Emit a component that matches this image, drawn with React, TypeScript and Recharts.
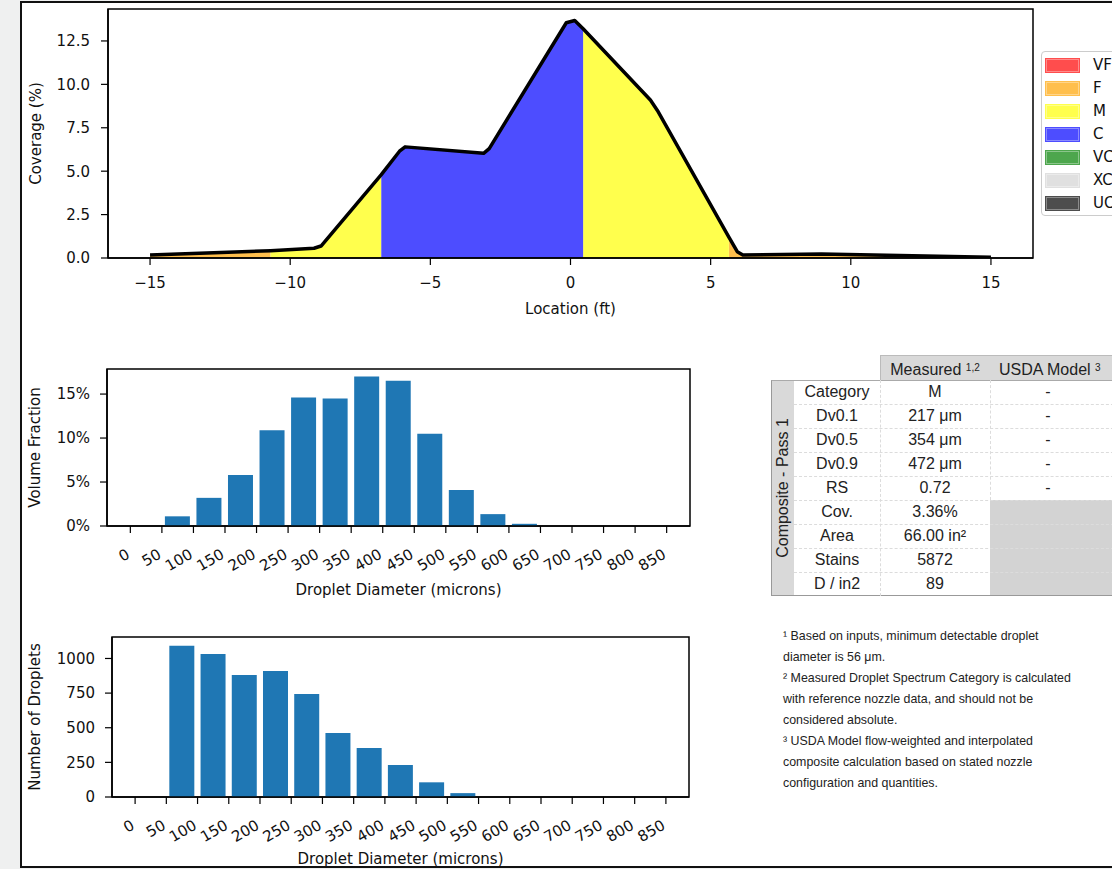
import React from 'react';
import {
  ComposedChart, Area, Line, XAxis, YAxis, ReferenceArea, BarChart, Bar,
} from 'recharts';

// --- coverage profile (top panel) ---
const locations = [-15, -10.7, -9.15, -8.9, -6.75, -6.1, -5.9, -3.1, -2.9, -0.15, 0.15, 0.45, 2.85, 3.1, 5.65, 5.95, 6.15, 8.95, 15];
const coverage = [0.17, 0.42, 0.56, 0.69, 4.8, 6.15, 6.4, 6.03, 6.3, 13.55, 13.68, 13.2, 9.1, 8.5, 1.2, 0.36, 0.17, 0.23, 0.04];

const segStarts = [-15, -10.7, -6.75, 0.45, 5.65];
const segEnds = [-10.7, -6.75, 0.45, 5.65, 15];
const segCats = ['F', 'M', 'C', 'M', 'F'];

const categories = ['VF', 'F', 'M', 'C', 'VC', 'XC', 'UC'];
const categoryColors = ['#ff4d4d', '#ffbf4d', '#ffff4d', '#4d4dff', '#4da64d', '#e0e0e0', '#4d4d4d'];

const locationTicks = [-15, -10, -5, 0, 5, 10, 15];
const coverageTicks = [0, 2.5, 5, 7.5, 10, 12.5];

// --- droplet spectrum (histograms) ---
const binCenters = [25, 75, 125, 175, 225, 275, 325, 375, 425, 475, 525, 575, 625, 675, 725, 775, 825];
const volumeFraction = [0, 1.1, 3.2, 5.8, 10.9, 14.6, 14.5, 17.0, 16.5, 10.5, 4.1, 1.35, 0.25, 0, 0, 0, 0];
const dropletCounts = [0, 1092, 1033, 881, 910, 744, 462, 354, 231, 106, 28, 0, 0, 0, 0, 0, 0];
const diameterTicks = [0, 50, 100, 150, 200, 250, 300, 350, 400, 450, 500, 550, 600, 650, 700, 750, 800, 850];
const volumeTicks = [0, 5, 10, 15];
const countTicks = [0, 250, 500, 750, 1000];

// --- summary table ---
const tableRowLabels = ['Category', 'Dv0.1', 'Dv0.5', 'Dv0.9', 'RS', 'Cov.', 'Area', 'Stains', 'D / in2'];
const measuredValues = ['M', '217 \u03bcm', '354 \u03bcm', '472 \u03bcm', '0.72', '3.36%', '66.00 in\u00b2', '5872', '89'];
const usdaValues = ['-', '-', '-', '-', '-', null, null, null, null];

const footnotes = [
  '\u00b9 Based on inputs, minimum detectable droplet',
  'diameter is 56 \u03bcm.',
  '\u00b2 Measured Droplet Spectrum Category is calculated',
  'with reference nozzle data, and should not be',
  'considered absolute.',
  '\u00b3 USDA Model flow-weighted and interpolated',
  'composite calculation based on stated nozzle',
  'configuration and quantities.',
];

const INK = '#111';
const tickFont = { fontSize: 15, fill: INK };
const axisStroke = { stroke: '#000', strokeWidth: 1.5 };
const tickStroke = { stroke: '#000', strokeWidth: 1.2 };

const coverageRows = locations.map((x, i) => {
  const row: Record<string, number> = { x, y: coverage[i] };
  segCats.forEach((cat, s) => {
    if (x >= segStarts[s] && x <= segEnds[s]) row[cat] = coverage[i];
  });
  return row;
});
const areaCats = Array.from(new Set(segCats));
const colorOf = (cat: string) => categoryColors[categories.indexOf(cat)];

const volRows = binCenters.map((d, i) => ({ d, v: volumeFraction[i] }));
const countRows = binCenters.map((d, i) => ({ d, n: dropletCounts[i] }));

const minus = (v: number) => (v < 0 ? '\u2212' + Math.abs(v) : String(v));

const RotatedTick = (props: any) => {
  const { x, y, payload } = props;
  return (
    <g transform={`translate(${x - 5},${y})`}>
      <text transform="rotate(-30)" textAnchor="end" dy="0.71em" fontSize={15} fill={INK}>
        {payload.value}
      </text>
    </g>
  );
};

function CoverageChart() {
  return (
    <ComposedChart width={1112} height={330} data={coverageRows} margin={{ top: 9, right: 79, left: 20, bottom: 12 }}>
      <XAxis
        type="number" dataKey="x" domain={[-16.5, 16.5]} ticks={locationTicks} allowDataOverflow
        tickFormatter={minus} tick={tickFont} tickSize={7} tickMargin={12} height={60}
        axisLine={axisStroke} tickLine={tickStroke} interval={0}
        label={{ value: 'Location (ft)', position: 'insideBottom', offset: 4, fontSize: 15, fill: INK }}
      />
      <YAxis
        type="number" domain={[0, 14.34]} ticks={coverageTicks} allowDataOverflow
        tickFormatter={(v: number) => v.toFixed(1)} tick={tickFont} tickSize={7} tickMargin={11} width={88}
        axisLine={axisStroke} tickLine={tickStroke} interval={0}
        label={{ value: 'Coverage (%)', angle: -90, position: 'insideLeft', offset: 16, fontSize: 15, fill: INK, style: { textAnchor: 'middle' } }}
      />
      {areaCats.map(cat => (
        <Area
          key={cat} dataKey={cat} type="linear" stroke="none" fill={colorOf(cat)} fillOpacity={1}
          isAnimationActive={false} connectNulls={false} dot={false} activeDot={false}
        />
      ))}
      <Line dataKey="y" type="linear" stroke="#000" strokeWidth={3.5} dot={false} activeDot={false} isAnimationActive={false} strokeLinejoin="round" />
      <ReferenceArea x1={-16.5} x2={16.5} y1={0} y2={14.34} fillOpacity={0} stroke="#000" strokeWidth={1.5} />
    </ComposedChart>
  );
}

function HistChart({ rows, dataKey, yDomain, yTicks, yFmt, yLabel, width, height, margin, yWidth, xHeight, labelOffset }: any) {
  return (
    <BarChart width={width} height={height} data={rows} margin={margin}>
      <XAxis
        type="number" dataKey="d" domain={[-37, 887]} ticks={diameterTicks} allowDataOverflow interval={0}
        tick={<RotatedTick />} tickSize={7} tickMargin={15} height={xHeight}
        axisLine={axisStroke} tickLine={tickStroke}
        label={{ value: 'Droplet Diameter (microns)', position: 'insideBottom', offset: labelOffset, fontSize: 15, fill: INK }}
      />
      <YAxis
        type="number" domain={yDomain} ticks={yTicks} allowDataOverflow interval={0}
        tickFormatter={yFmt} tick={tickFont} tickSize={7} tickMargin={10} width={yWidth}
        axisLine={axisStroke} tickLine={tickStroke}
        label={{ value: yLabel, angle: -90, position: 'insideLeft', offset: 15, fontSize: 15, fill: INK, style: { textAnchor: 'middle' } }}
      />
      <Bar dataKey={dataKey} fill="#1f77b4" barSize={25} isAnimationActive={false} />
      <ReferenceArea x1={-37} x2={887} y1={yDomain[0]} y2={yDomain[1]} fillOpacity={0} stroke="#000" strokeWidth={1.5} />
    </BarChart>
  );
}

function CategoryLegend() {
  return (
    <div style={{
      position: 'absolute', left: 1041, top: 51, width: 100, height: 165, boxSizing: 'border-box',
      border: '1px solid #ccc', borderRadius: 4, background: '#fff',
    }}>
      {categories.map((c, i) => (
        <div key={c} style={{ position: 'absolute', left: 0, top: 5 + i * 23, height: 16, width: 100 }}>
          <div style={{
            position: 'absolute', left: 4, top: 2, width: 33, height: 13, boxSizing: 'border-box',
            background: categoryColors[i], border: '1px solid rgba(255,255,255,0.35)', outline: `1px solid ${categoryColors[i]}`,
          }} />
          <div style={{ position: 'absolute', left: 51, top: -1, fontSize: 15, color: INK, lineHeight: '18px' }}>{c}</div>
        </div>
      ))}
    </div>
  );
}

function SummaryTable() {
  const top = 380;
  const rowH = 24;
  const font = { fontFamily: '"Liberation Sans", Arial, sans-serif', fontSize: 16, color: '#222' };
  const cell = (left: number, t: number, w: number, text: React.ReactNode, key: string) => (
    <div key={key} style={{ position: 'absolute', left, top: t, width: w, height: rowH, lineHeight: `${rowH}px`, textAlign: 'center', ...font }}>{text}</div>
  );
  const dash = '1px dashed #dcdcdc';
  return (
    <div>
      {/* header */}
      <div style={{ position: 'absolute', left: 880, top: 355, width: 240, height: 25, background: '#d9d9d9', borderTop: '1px solid #bbb', borderLeft: '1px solid #bbb' }} />
      <div style={{ position: 'absolute', left: 880, top: 355, width: 110, height: 25, lineHeight: '25px', textAlign: 'center', ...font }}>
        Measured <span style={{ fontSize: 10, verticalAlign: '4px' }}>1,2</span>
      </div>
      <div style={{ position: 'absolute', left: 990, top: 355, width: 130, height: 25, lineHeight: '25px', textAlign: 'left', paddingLeft: 9, ...font }}>
        USDA Model <span style={{ fontSize: 10, verticalAlign: '4px' }}>3</span>
      </div>
      {/* body */}
      <div style={{ position: 'absolute', left: 771, top, width: 360, height: rowH * 9, borderLeft: '1.5px solid #999', borderBottom: '1.5px solid #999', borderTop: '1px solid #aaa', boxSizing: 'border-box' }} />
      <div style={{ position: 'absolute', left: 772, top: top + 1, width: 22, height: rowH * 9 - 2, background: '#d9d9d9' }} />
      <div style={{ position: 'absolute', left: 990, top: top + rowH * 5, width: 130, height: rowH * 4 - 1, background: '#d3d3d3' }} />
      <div style={{ position: 'absolute', left: 783, top: top + rowH * 4.5, width: 0, height: 0 }}>
        <div style={{ position: 'absolute', left: -110, top: -12, width: 220, height: 24, lineHeight: '24px', textAlign: 'center', transform: 'rotate(-90deg)', ...font }}>
          Composite - Pass 1
        </div>
      </div>
      {tableRowLabels.map((_, i) => i > 0 && (
        <div key={'h' + i} style={{ position: 'absolute', left: 794, top: top + i * rowH, width: 330, height: 0, borderTop: dash }} />
      ))}
      <div style={{ position: 'absolute', left: 880, top, width: 0, height: rowH * 9, borderLeft: dash }} />
      <div style={{ position: 'absolute', left: 990, top, width: 0, height: rowH * 5, borderLeft: dash }} />
      {tableRowLabels.map((l, i) => cell(794, top + i * rowH, 86, l, 'l' + i))}
      {measuredValues.map((v, i) => cell(880, top + i * rowH, 110, v, 'm' + i))}
      {usdaValues.map((v, i) => (v == null ? null : cell(990, top + i * rowH, 116, v, 'u' + i)))}
    </div>
  );
}

function Footnotes() {
  return (
    <div style={{ position: 'absolute', left: 783, top: 626, fontFamily: '"Liberation Sans", Arial, sans-serif', fontSize: 12.4, lineHeight: '21px', color: '#222', whiteSpace: 'nowrap' }}>
      {footnotes.map((text, i) => <div key={i}>{text}</div>)}
    </div>
  );
}

export default function App() {
  return (
    <div style={{ position: 'absolute', left: 0, top: 0, width: 1112, height: 869, overflow: 'hidden', background: '#eff0f0', fontFamily: '"DejaVu Sans", sans-serif' }}>
      <div style={{ position: 'absolute', left: 20, top: 1, width: 1100, height: 867, background: '#fff' }} />
      <div style={{ position: 'absolute', left: 0, top: 0 }}>
        <CoverageChart />
      </div>
      <CategoryLegend />
      <div style={{ position: 'absolute', left: 0, top: 340 }}>
        <HistChart
          rows={volRows} dataKey="v" yDomain={[0, 17.85]} yTicks={volumeTicks} yFmt={(v: number) => `${v}%`}
          yLabel="Volume Fraction" width={720} height={280} margin={{ top: 29, right: 30, left: 20, bottom: 14 }}
          yWidth={87} xHeight={80} labelOffset={11}
        />
      </div>
      <div style={{ position: 'absolute', left: 0, top: 610 }}>
        <HistChart
          rows={countRows} dataKey="n" yDomain={[0, 1155]} yTicks={countTicks} yFmt={(v: number) => String(v)}
          yLabel="Number of Droplets" width={720} height={259} margin={{ top: 27, right: 31, left: 20, bottom: 0 }}
          yWidth={92} xHeight={72} labelOffset={5}
        />
      </div>
      <SummaryTable />
      <Footnotes />
      <div style={{ position: 'absolute', left: 20, top: 1, width: 1100, height: 867, boxSizing: 'border-box', border: '2px solid #111', pointerEvents: 'none' }} />
    </div>
  );
}
